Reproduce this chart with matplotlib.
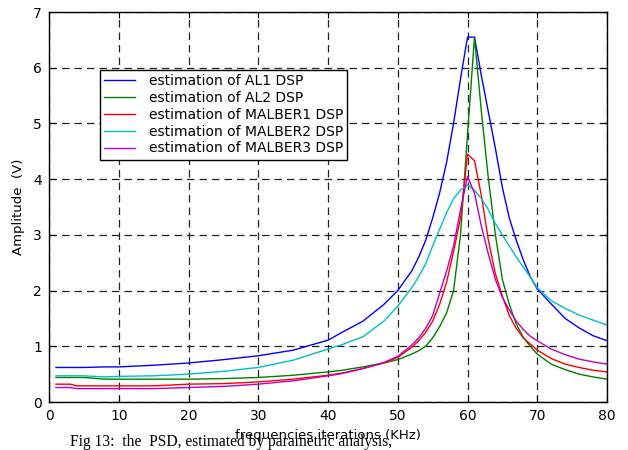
import matplotlib
matplotlib.use("Agg")
import matplotlib.pyplot as plt

x = [1, 3, 4, 5, 8, 10, 15, 20, 25, 30, 35, 40, 42, 45, 48, 50, 52, 53, 54, 55,
     56, 57, 58, 59, 60, 61, 62, 63, 64, 65, 66, 67, 68, 69, 70, 72, 74, 76, 78, 80]

al1 = [0.62, 0.62, 0.62, 0.62, 0.63, 0.63, 0.66, 0.70, 0.76, 0.83, 0.93, 1.11, 1.25, 1.45, 1.75, 2.0, 2.35, 2.6, 2.9, 3.3,
       3.75, 4.3, 5.0, 5.8, 6.55, 6.55, 5.85, 5.2, 4.55, 3.85, 3.3, 2.9, 2.55, 2.25, 2.03, 1.76, 1.5, 1.33, 1.19, 1.1]
al2 = [0.44, 0.44, 0.44, 0.44, 0.41, 0.41, 0.41, 0.41, 0.42, 0.44, 0.48, 0.54, 0.57, 0.63, 0.70, 0.76, 0.86, 0.92, 1.0, 1.15,
       1.35, 1.6, 2.0, 3.0, 4.8, 6.55, 5.2, 4.0, 3.0, 2.2, 1.75, 1.4, 1.16, 1.0, 0.86, 0.68, 0.58, 0.50, 0.45, 0.41]
malber1 = [0.32, 0.32, 0.29, 0.29, 0.29, 0.29, 0.29, 0.32, 0.33, 0.36, 0.41, 0.48, 0.52, 0.60, 0.70, 0.80, 0.98, 1.1, 1.25, 1.45,
           1.75, 2.15, 2.7, 3.3, 4.45, 4.33, 3.7, 2.9, 2.3, 1.9, 1.55, 1.32, 1.15, 1.04, 0.93, 0.78, 0.68, 0.62, 0.57, 0.54]
malber2 = [0.47, 0.47, 0.47, 0.47, 0.45, 0.46, 0.47, 0.50, 0.55, 0.62, 0.75, 0.95, 1.03, 1.17, 1.45, 1.72, 2.05, 2.25, 2.48, 2.8,
           3.1, 3.4, 3.65, 3.8, 3.9, 3.8, 3.65, 3.45, 3.2, 3.0, 2.8, 2.6, 2.42, 2.24, 2.05, 1.82, 1.68, 1.56, 1.47, 1.38]
malber3 = [0.26, 0.26, 0.24, 0.24, 0.24, 0.24, 0.24, 0.26, 0.28, 0.32, 0.38, 0.47, 0.51, 0.60, 0.71, 0.82, 1.02, 1.15, 1.32, 1.55,
           1.95, 2.35, 2.8, 3.45, 4.05, 3.75, 3.15, 2.65, 2.2, 1.88, 1.65, 1.45, 1.3, 1.18, 1.1, 0.95, 0.85, 0.77, 0.72, 0.68]

labels = ["estimation of AL1 DSP", "estimation of AL2 DSP", "estimation of MALBER1 DSP",
          "estimation of MALBER2 DSP", "estimation of MALBER3 DSP"]
colors = ["#0000ff", "#008000", "#ff0000", "#00bfbf", "#bf00bf"]
series = [al1, al2, malber1, malber2, malber3]

xticks = list(range(0, 81, 10))
yticks = list(range(0, 8))

plt.rcParams['font.family'] = ['DejaVu Sans']

fig = plt.figure(figsize=(6.28, 4.50), dpi=100)
ax = fig.add_axes([49/628, 1 - 402/450, (607-49)/628, (402-12)/450])

for ys, c, lab in zip(series, colors, labels):
    ax.plot(x, ys, color=c, lw=1.0, label=lab)

ax.set_xlim(0, 80)
ax.set_ylim(0, 7)
ax.set_xticks(xticks)
ax.set_yticks(yticks)
ax.tick_params(direction='in', top=True, right=True, labelsize=10, length=4, width=0.8, pad=5)
ax.grid(True, color='#222222', linestyle=(0, (6, 4)), lw=0.9)
for s in ax.spines.values():
    s.set_linewidth(1.0)
    s.set_color('black')

ax.set_ylabel("Amplitude  (V)", fontsize=9.5, labelpad=6)
ax.set_xlabel("frequencies iterations (KHz)", fontsize=9.5, labelpad=4)

leg = ax.legend(loc='upper left', bbox_to_anchor=(0.0914, 0.851), fontsize=10,
                frameon=True, fancybox=False, edgecolor='black', framealpha=1,
                handlelength=2.2, labelspacing=0.2, borderpad=0.3, handletextpad=1.0,
                borderaxespad=0)
leg.get_frame().set_linewidth(1.0)

fig.text(70/628, 1 - 446/450, "Fig 13:  the  PSD, estimated by parametric analysis,",
         fontsize=11.2, family='Liberation Serif', ha='left', va='baseline')

fig.savefig("out.png", dpi=100)
